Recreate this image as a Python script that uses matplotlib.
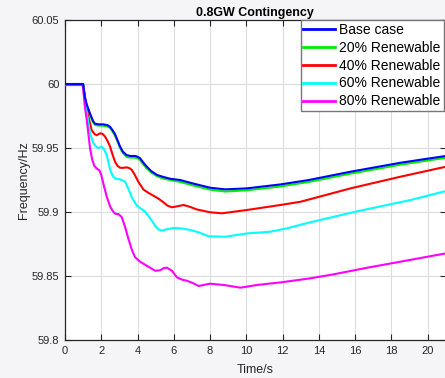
import matplotlib
matplotlib.use("Agg")
import matplotlib.pyplot as plt

plt.rcParams['font.family'] = ['Liberation Sans', 'DejaVu Sans']

title = "0.8GW Contingency"
xlabel = "Time/s"
ylabel = "Frequency/Hz"
series_names = ["Base case", "20% Renewable", "40% Renewable", "60% Renewable", "80% Renewable"]
series_colors = ["#0000ff", "#00ee00", "#ff0000", "#00ffff", "#ff00ff"]

t_base = [0, 1.0, 1.1, 1.2, 1.38, 1.55, 1.66, 1.85, 2.12, 2.35, 2.49, 2.62, 2.76, 2.9, 3.04,
          3.2, 3.4, 3.6, 3.87, 4.0, 4.14, 4.3, 4.51, 4.75, 5.07, 5.4,
          5.8, 6.35, 7.0, 8.0, 8.84, 10.04, 11.9, 13.44, 15.75, 18.5, 21.0]
f_base = [60.0, 60.0, 59.990, 59.984, 59.977, 59.971, 59.969, 59.9685, 59.9685, 59.9678,
          59.9665, 59.964, 59.9608, 59.956, 59.951, 59.947, 59.9445, 59.9438,
          59.9438, 59.9432, 59.942, 59.939, 59.9354, 59.932, 59.929, 59.9275,
          59.926, 59.925, 59.9225, 59.919, 59.9177,
          59.9185, 59.9216, 59.925, 59.9315, 59.9385, 59.9438]

t_20 = t_base
f_20 = [60.0, 60.0, 59.989, 59.983, 59.976, 59.970, 59.968, 59.9675, 59.9675, 59.9668,
        59.9655, 59.963, 59.9595, 59.955, 59.950, 59.946, 59.943, 59.9425,
        59.9425, 59.942, 59.9405, 59.9375, 59.934, 59.931, 59.928, 59.9262,
        59.925, 59.9235, 59.921, 59.9175, 59.916,
        59.917, 59.920, 59.9235, 59.930, 59.937, 59.9424]

t_40 = [0, 1.0, 1.15, 1.29, 1.47, 1.62, 1.75, 1.93, 2.08, 2.21, 2.35, 2.49, 2.62, 2.76, 2.9,
        3.04, 3.2, 3.4, 3.55, 3.68, 3.85, 4.05, 4.33, 4.6,
        4.88, 5.15, 5.43, 5.65, 5.9, 6.2, 6.54, 6.9, 7.27, 8.0, 8.66, 10.04, 11.88, 12.98,
        15.75, 18.5, 21.0]
f_40 = [60.0, 60.0, 59.984, 59.9745, 59.964, 59.961, 59.960, 59.9615, 59.961, 59.9589,
        59.9555, 59.951, 59.945, 59.9393, 59.936, 59.9346, 59.9345, 59.9349, 59.9343,
        59.933, 59.929, 59.9235, 59.9175, 59.915, 59.9127, 59.9105, 59.9076, 59.905,
        59.9037, 59.9045, 59.9055, 59.904, 59.902,
        59.8998, 59.899, 59.9016, 59.9055, 59.908, 59.9185, 59.9276, 59.9354]

t_60 = [0, 1.0, 1.1, 1.2, 1.38, 1.57, 1.72, 1.84, 2.03, 2.15, 2.3, 2.49, 2.62, 2.76, 3.04,
        3.31, 3.5, 3.7, 3.96, 4.2, 4.42, 4.7, 4.97, 5.15, 5.34, 5.6, 5.98, 6.4, 6.9, 7.4,
        7.92, 8.84, 10.04, 11.33, 12.25, 13.44, 16.0, 19.06, 21.0]
f_60 = [60.0, 60.0, 59.987, 59.978, 59.9615, 59.9537, 59.951, 59.950, 59.951, 59.949,
        59.9445, 59.933, 59.9285, 59.9263, 59.9255, 59.9237, 59.918, 59.911, 59.905,
        59.9025, 59.9003, 59.895, 59.8893, 59.8865, 59.8854, 59.8865, 59.8875, 59.8872,
        59.886, 59.884, 59.881, 59.8807, 59.8833, 59.8846, 59.8873, 59.8917, 59.9002,
        59.9094, 59.9164]

t_80 = [0, 0.98, 1.05, 1.1, 1.2, 1.3, 1.38, 1.5, 1.62, 1.75, 1.9, 2.0, 2.12, 2.3, 2.5, 2.67,
        2.8, 2.95, 3.13, 3.3, 3.5, 3.7, 3.87, 4.14, 4.51, 4.75, 4.97, 5.25, 5.45, 5.62,
        5.9, 6.17, 6.45, 6.72, 7.05, 7.37, 7.7, 8.0, 8.75, 9.67, 10.59,
        11.88, 13.44, 14.8, 16.67, 18.5, 21.0]
f_80 = [59.9992, 59.9992, 59.989, 59.982, 59.972, 59.960, 59.950, 59.941, 59.936, 59.934,
        59.9325, 59.929, 59.922, 59.912, 59.904, 59.900, 59.8985, 59.8984, 59.896,
        59.889, 59.8789, 59.870, 59.8646, 59.8612, 59.858, 59.856, 59.8541, 59.8545,
        59.8562, 59.8565, 59.8541, 59.849, 59.8472, 59.8463, 59.8445, 59.8422, 59.8432,
        59.844, 59.843, 59.8409, 59.843,
        59.845, 59.848, 59.8513, 59.8565, 59.8612, 59.8677]

xticks = [0, 2, 4, 6, 8, 10, 12, 14, 16, 18, 20]
yticks = [59.8, 59.85, 59.9, 59.95, 60.0, 60.05]
ytick_labels = ["59.8", "59.85", "59.9", "59.95", "60", "60.05"]

fig = plt.figure(figsize=(4.45, 3.78), dpi=100, facecolor="#f5f5f7")
ax = fig.add_axes([0.146, 0.1005, 0.856, 0.8465])
ax.set_facecolor("white")

all_t = [t_base, t_20, t_40, t_60, t_80]
all_f = [f_base, f_20, f_40, f_60, f_80]
order = [1, 0, 2, 3, 4]
lines = {}
for i in order:
    ln, = ax.plot(all_t[i], all_f[i], color=series_colors[i], lw=1.5,
                  solid_joinstyle="round", label=series_names[i],
                  zorder=3 + (1 if i == 0 else 0))
    lines[i] = ln

ax.set_xlim(0, 21)
ax.set_ylim(59.8, 60.05)
ax.set_xticks(xticks)
ax.set_xticklabels([str(x) for x in xticks])
ax.set_yticks(yticks)
ax.set_yticklabels(ytick_labels)
ax.grid(True, color="#dcdcdc", lw=0.8)
ax.set_axisbelow(True)
ax.tick_params(direction="in", top=True, right=True, length=4, width=0.8,
               labelsize=8, colors="#262626", pad=4)
for s in ax.spines.values():
    s.set_color("#262626")
    s.set_linewidth(0.9)

ax.set_title(title, fontsize=9, fontweight="bold", pad=3)
ax.set_xlabel(xlabel, fontsize=9, labelpad=6, color="#262626")
ax.set_ylabel(ylabel, fontsize=9, labelpad=1, color="#262626")

leg = ax.legend([lines[i] for i in range(5)], series_names, loc="upper right",
                bbox_to_anchor=(0.994, 1.0), fontsize=10, frameon=True, fancybox=False,
                framealpha=1, edgecolor="#777777", borderpad=0.2, labelspacing=0.28,
                handlelength=2.3, handletextpad=0.3, borderaxespad=0)
leg.get_frame().set_linewidth(1.0)
for h in leg.get_lines():
    h.set_linewidth(2.0)

fig.savefig("out.png", dpi=100, facecolor=fig.get_facecolor())
